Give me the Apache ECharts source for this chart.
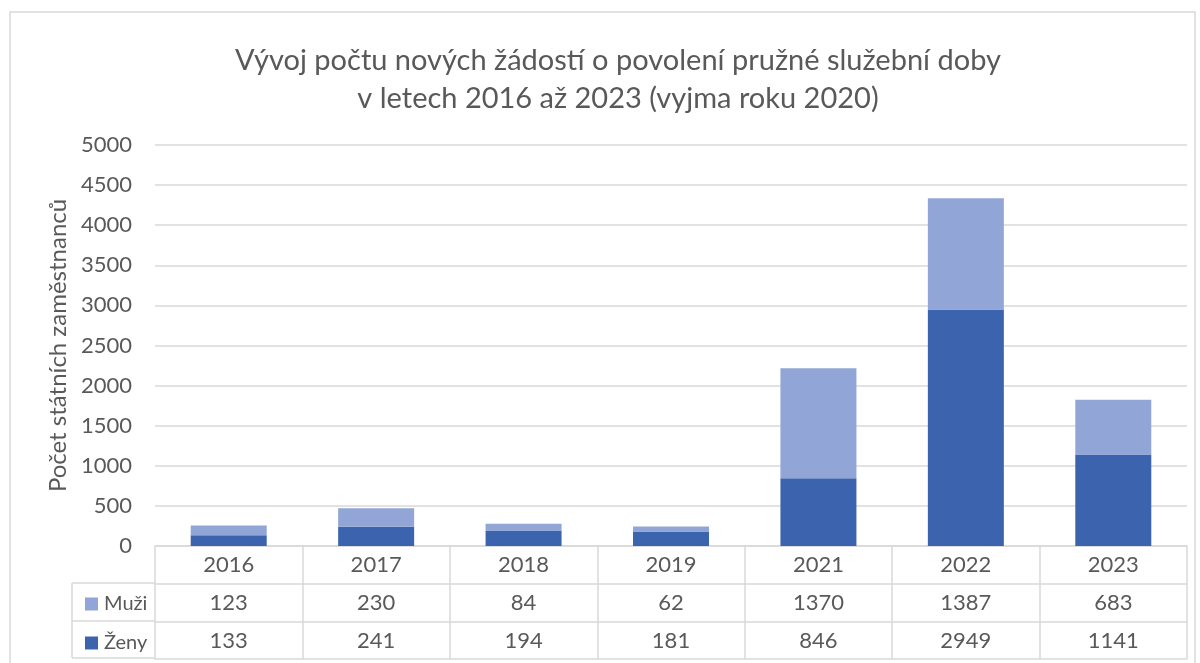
<!DOCTYPE html>
<html>
<head>
<meta charset="utf-8">
<script src="https://cdn.jsdelivr.net/npm/echarts@6/dist/echarts.min.js"></script>
<style>
    html, body { margin: 0; padding: 0; background: #fff; }
    #chart1 { width: 1200px; height: 663px; }
</style>
</head>
<body>
<div id="chart1"></div>
<script>
var years = ['2016', '2017', '2018', '2019', '2021', '2022', '2023'];
var muzi = [123, 230, 84, 62, 1370, 1387, 683];
var zeny = [133, 241, 194, 181, 846, 2949, 1141];
var yTicks = [0, 500, 1000, 1500, 2000, 2500, 3000, 3500, 4000, 4500, 5000];

var chart1 = echarts.init(document.getElementById('chart1'));
var font = 'Lato';
var textColor = '#595959';
var lineColor = '#d9d9d9';
var rowH = 38;

// radky tabulky pod grafem = dalsi osy x
function tableAxis(offset, values, showLabel) {
    return {
        type: 'category',
        data: values.map(function (v) { return String(v); }),
        position: 'bottom',
        offset: offset,
        axisLine: { show: true, lineStyle: { color: lineColor, width: 1.5 } },
        axisTick: { show: false },
        axisLabel: { show: showLabel, color: textColor, fontFamily: font, fontSize: 22, margin: 8 }
    };
}

var option = {
    backgroundColor: '#fff',
    animation: false,
    title: {
        text: 'Vývoj počtu nových žádostí o povolení pružné služební doby\nv letech 2016 až 2023 (vyjma roku 2020)',
        left: 613,
        top: 37,
        textAlign: 'center',
        textStyle: { color: textColor, fontFamily: font, fontWeight: 'normal', fontSize: 29, lineHeight: 38 }
    },
    legend: {
        data: ['Muži', 'Ženy'],
        orient: 'vertical',
        left: 80,
        top: 589,
        itemWidth: 13,
        itemHeight: 13,
        itemGap: 19,
        icon: 'rect',
        textStyle: { color: textColor, fontFamily: font, fontSize: 20, lineHeight: 20, padding: [0, 0, 0, 1] }
    },
    grid: { left: 155, right: 13, top: 145, bottom: 117 },
    xAxis: [
        {
            type: 'category',
            data: years,
            axisLine: { show: true, lineStyle: { color: lineColor, width: 1.5 } },
            axisTick: { show: true, alignWithLabel: false, length: 113, lineStyle: { color: lineColor, width: 1.5 } },
            axisLabel: { color: textColor, fontFamily: font, fontSize: 22, margin: 8 }
        },
        tableAxis(rowH, muzi, true),
        tableAxis(rowH * 2, zeny, true),
        tableAxis(rowH * 3 - 1, years, false)
    ],
    yAxis: {
        type: 'value',
        min: yTicks[0],
        max: yTicks[yTicks.length - 1],
        interval: 500,
        name: 'Počet státních zaměstnanců',
        nameLocation: 'middle',
        nameGap: 84,
        nameTextStyle: { color: textColor, fontFamily: font, fontSize: 24 },
        axisLine: { show: false },
        axisTick: { show: false },
        axisLabel: {
            color: textColor, fontFamily: font, fontSize: 22, margin: 23,
            formatter: function (v) { return String(v); }
        },
        splitLine: { lineStyle: { color: lineColor, width: 1.5 } }
    },
    series: [
        {
            name: 'Ženy',
            type: 'bar',
            stack: 'celkem',
            barWidth: 76,
            data: zeny,
            itemStyle: { color: '#3c64ae' }
        },
        {
            name: 'Muži',
            type: 'bar',
            stack: 'celkem',
            barWidth: 76,
            data: muzi,
            itemStyle: { color: '#91a5d6' }
        }
    ],
    graphic: [
        // ramecek grafu
        { type: 'rect', shape: { x: 10, y: 12, width: 1185, height: 660 }, style: { fill: 'none', stroke: lineColor, lineWidth: 1.5 }, silent: true },
        // levy sloupec tabulky (legenda)
        { type: 'line', shape: { x1: 72, y1: 583, x2: 155, y2: 583 }, style: { stroke: lineColor, lineWidth: 1.5 } },
        { type: 'line', shape: { x1: 72, y1: 621, x2: 155, y2: 621 }, style: { stroke: lineColor, lineWidth: 1.5 } },
        { type: 'line', shape: { x1: 72, y1: 658, x2: 155, y2: 658 }, style: { stroke: lineColor, lineWidth: 1.5 } },
        { type: 'line', shape: { x1: 72, y1: 583, x2: 72, y2: 658 }, style: { stroke: lineColor, lineWidth: 1.5 } }
    ]
};
chart1.setOption(option);
</script>
</body>
</html>
